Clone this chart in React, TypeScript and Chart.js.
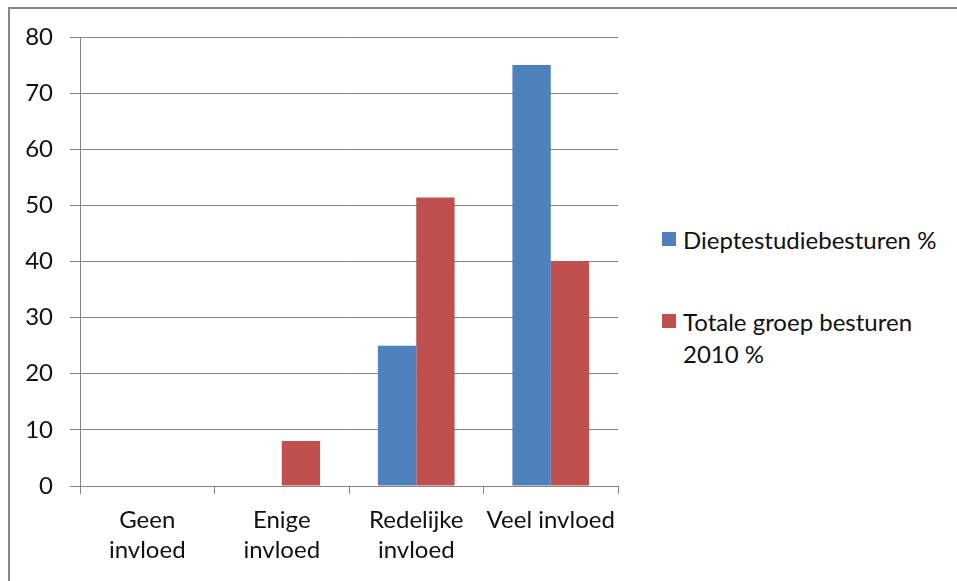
import React, { useEffect, useRef } from "react";
import { Chart, registerables } from "chart.js";

Chart.register(...registerables);

const categories: string[][] = [["Geen", "invloed"], ["Enige", "invloed"], ["Redelijke", "invloed"], ["Veel invloed"]];
const seriesNames = ["Dieptestudiebesturen %", "Totale groep besturen 2010 %"];
const dieptestudie = [0, 0, 25, 75];
const totaleGroep = [0, 8, 51.4, 40.1];
const yMin = 0;
const yMax = 80;
const yStep = 10;

const BLUE = "#4F81BD";
const RED = "#C0504D";
const GRID = "#868686";
const FONT = "Lato, 'Open Sans', sans-serif";

export default function App() {
  const ref = useRef<HTMLCanvasElement | null>(null);

  useEffect(() => {
    if (!ref.current) return;
    const chart = new Chart(ref.current, {
      type: "bar",
      data: {
        labels: categories,
        datasets: [
          { label: seriesNames[0], data: dieptestudie, backgroundColor: BLUE, borderWidth: 0 },
          { label: seriesNames[1], data: totaleGroep, backgroundColor: RED, borderWidth: 0 },
        ],
      },
      options: {
        animation: false,
        responsive: false,
        maintainAspectRatio: false,
        layout: { padding: { left: 0, top: 37, right: 10, bottom: 0 } },
        plugins: { legend: { display: false }, tooltip: { enabled: false } },
        datasets: { bar: { categoryPercentage: 0.57, barPercentage: 1 } },
        scales: {
          x: {
            afterFit: (s: any) => { s.height = 95; },
            grid: { offset: true, drawOnChartArea: false, drawTicks: true, tickLength: 8, color: GRID, lineWidth: 1 },
            border: { display: true, color: GRID, width: 1 },
            ticks: { color: "#111", font: { family: FONT, size: 24, lineHeight: 1.25 }, padding: 11, maxRotation: 0, autoSkip: false },
          },
          y: {
            min: yMin,
            max: yMax,
            afterFit: (s: any) => { s.width = 80; },
            grid: { color: GRID, lineWidth: 1, tickLength: 10, drawTicks: true },
            border: { display: true, color: GRID, width: 1 },
            ticks: { stepSize: yStep, color: "#111", font: { family: FONT, size: 24 }, padding: 17 },
          },
        },
      },
    });
    return () => chart.destroy();
  }, []);

  return (
    <div style={{ position: "fixed", left: 0, top: 0, width: 957, height: 581, background: "#fff", overflow: "hidden" }}>
      <div style={{ position: "absolute", left: 8, top: 7, width: 960, height: 600, borderTop: `2px solid ${GRID}`, borderLeft: `2px solid ${GRID}` }} />
      <canvas ref={ref} width={628} height={581} style={{ position: "absolute", left: 0, top: 0, width: 628, height: 581 }} />
      <div style={{ position: "absolute", left: 662, top: 225, fontFamily: FONT, fontSize: 24, color: "#111" }}>
        <div style={{ display: "flex", alignItems: "flex-start", lineHeight: "30px", whiteSpace: "nowrap" }}>
          <span style={{ display: "inline-block", width: 14, height: 14, background: BLUE, marginTop: 7, marginRight: 7, flex: "none" }} />
          <span>{seriesNames[0]}</span>
        </div>
        <div style={{ display: "flex", alignItems: "flex-start", lineHeight: "32px", marginTop: 51, whiteSpace: "nowrap" }}>
          <span style={{ display: "inline-block", width: 14, height: 14, background: RED, marginTop: 8, marginRight: 7, flex: "none" }} />
          <span>Totale groep besturen<br />2010 %</span>
        </div>
      </div>
    </div>
  );
}
